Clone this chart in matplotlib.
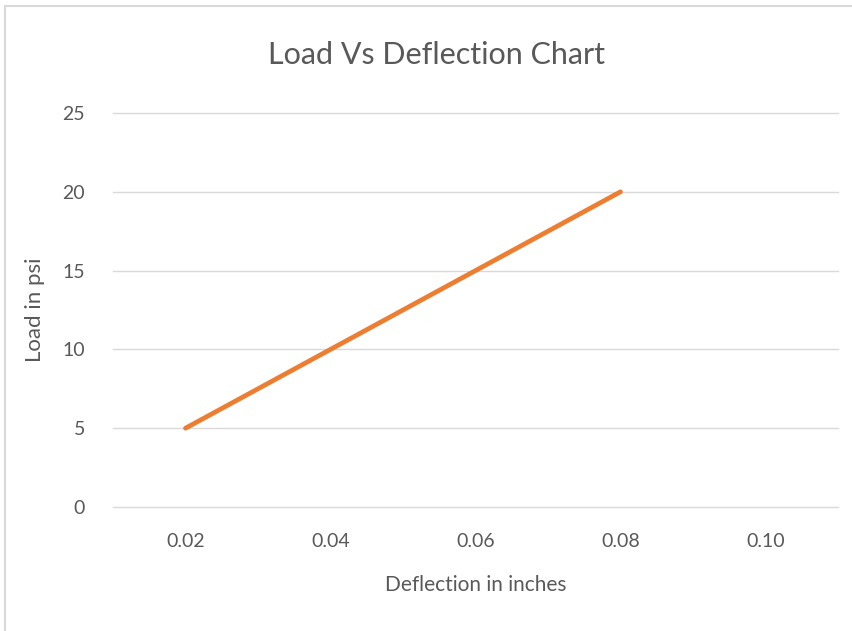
import matplotlib
matplotlib.use("Agg")
import matplotlib.pyplot as plt
from matplotlib.patches import Rectangle

deflection = [0.02, 0.04, 0.06, 0.08]
load = [5, 10, 15, 20]
x_ticks = [0.02, 0.04, 0.06, 0.08, 0.10]
y_ticks = [0, 5, 10, 15, 20, 25]

plt.rcParams['font.family'] = ['Lato', 'DejaVu Sans']
text_col = '#595959'


def plot():
    fig = plt.figure(figsize=(8.52, 6.31), dpi=100)
    ax = fig.add_axes([113 / 852, 1 - 507 / 631, (838 - 113) / 852, (507 - 113) / 631])

    ax.plot(deflection, load, color='#ED7D31', linewidth=3.4, solid_capstyle='round', zorder=3)

    ax.set_xlim(0.01, 0.11)
    ax.set_ylim(0, 25)
    ax.set_xticks(x_ticks)
    ax.set_xticklabels(['%.2f' % v for v in x_ticks])
    ax.set_yticks(y_ticks)
    ax.grid(False)
    for yv in y_ticks:
        ax.axhline(yv, color='#d9d9d9', linewidth=1.0, clip_on=False, zorder=1)
    for s in ax.spines.values():
        s.set_visible(False)
    ax.tick_params(length=0, labelsize=14, labelcolor=text_col)
    ax.tick_params(axis='x', pad=19)
    ax.tick_params(axis='y', pad=20)

    ax.set_xlabel('Deflection in inches', fontsize=15, color=text_col, labelpad=18)
    ax.set_ylabel('Load in psi', fontsize=16, color=text_col, labelpad=13)
    fig.text(437 / 852, 1 - 55 / 631, 'Load Vs Deflection Chart', fontsize=22,
             color=text_col, ha='center', va='center')

    # chart border
    fig.patches.append(Rectangle((5 / 852, -0.02), 1.0, 1 - 6 / 631 + 0.02,
                                 transform=fig.transFigure, fill=False,
                                 edgecolor='#d9d9d9', linewidth=1.5))

    fig.savefig('out.png', dpi=100)


def main():
    plot()


if __name__ == '__main__':
    main()
